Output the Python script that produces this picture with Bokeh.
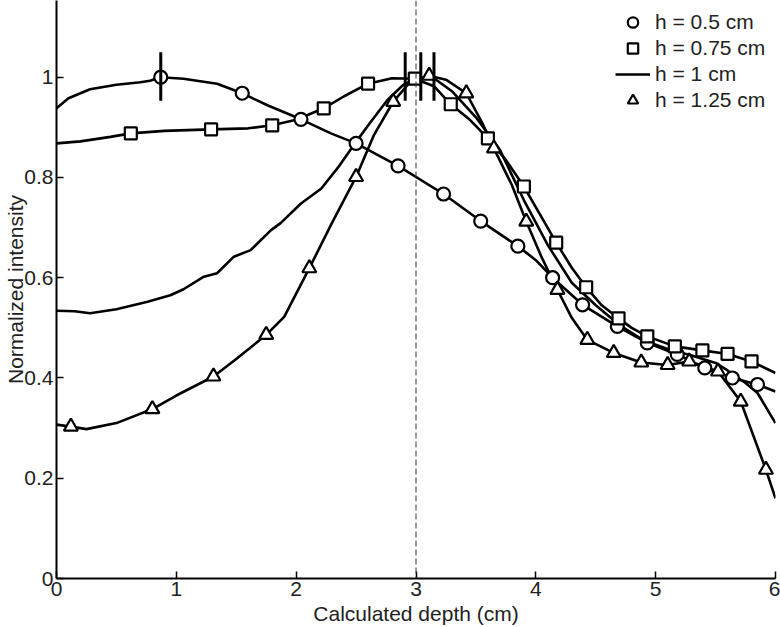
from bokeh.plotting import figure
from bokeh.models import Range1d, FixedTicker, Span, Legend, LegendItem
from bokeh.embed import file_html
from bokeh.resources import INLINE

# ---------------- data ----------------
# h = 0.5 cm (circles)
h05_line_x = [0, 0.1, 0.28, 0.5, 0.7, 0.78, 0.87, 1.06, 1.34, 1.55, 1.76, 2.04, 2.29, 2.5, 2.85,
              3.23, 3.54, 3.85, 4.0, 4.14, 4.39, 4.68, 4.93, 5.18, 5.41, 5.64, 5.85, 6.0]
h05_line_y = [0.938, 0.958, 0.976, 0.985, 0.99, 0.993, 1.0, 0.997, 0.987, 0.968, 0.944, 0.916, 0.888,
              0.868, 0.823, 0.767, 0.713, 0.663, 0.635, 0.60, 0.546, 0.503, 0.47, 0.447, 0.42, 0.40,
              0.387, 0.373]
h05_mark_x = [0.87, 1.55, 2.04, 2.50, 2.85, 3.23, 3.54, 3.85, 4.14, 4.39, 4.68, 4.93, 5.18, 5.41, 5.64, 5.85]
h05_mark_y = [1.0, 0.968, 0.916, 0.868, 0.823, 0.767, 0.713, 0.663, 0.60, 0.546, 0.503, 0.47, 0.447,
              0.42, 0.40, 0.387]

# h = 0.75 cm (squares)
h075_line_x = [0, 0.2, 0.45, 0.62, 0.9, 1.29, 1.6, 1.8, 2.0, 2.23, 2.4, 2.6, 2.8, 2.99, 3.15, 3.29,
               3.45, 3.6, 3.75, 3.9, 4.05, 4.17, 4.3, 4.42, 4.55, 4.69, 4.8, 4.93, 5.16, 5.39, 5.6,
               5.8, 6.0]
h075_line_y = [0.868, 0.872, 0.881, 0.888, 0.893, 0.896, 0.898, 0.904, 0.915, 0.938, 0.962, 0.987,
               0.998, 0.997, 0.982, 0.946, 0.915, 0.878, 0.835, 0.782, 0.72, 0.67, 0.62, 0.581,
               0.545, 0.519, 0.50, 0.483, 0.463, 0.455, 0.448, 0.433, 0.41]
h075_mark_x = [0.62, 1.29, 1.80, 2.23, 2.60, 2.99, 3.29, 3.60, 3.90, 4.17, 4.42, 4.69, 4.93, 5.16,
               5.39, 5.60, 5.80]
h075_mark_y = [0.888, 0.896, 0.904, 0.938, 0.987, 0.997, 0.946, 0.878, 0.782, 0.67, 0.581, 0.519,
               0.483, 0.463, 0.455, 0.448, 0.433]

# h = 1 cm (plain line)
h1_line_x = [0, 0.15, 0.28, 0.5, 0.76, 0.95, 1.06, 1.23, 1.34, 1.48, 1.62, 1.79, 1.87, 2.04, 2.21,
             2.35, 2.5, 2.62, 2.76, 2.89, 3.02, 3.15, 3.3, 3.5, 3.7, 3.9, 4.1, 4.3, 4.5, 4.7, 4.9,
             5.1, 5.3, 5.5, 5.6, 5.75, 5.85, 6.0]
h1_line_y = [0.534, 0.533, 0.529, 0.537, 0.552, 0.565, 0.577, 0.602, 0.609, 0.642, 0.655, 0.695,
             0.709, 0.748, 0.778, 0.82, 0.871, 0.91, 0.954, 0.984, 1.0, 0.998, 0.972, 0.92, 0.855,
             0.755, 0.665, 0.59, 0.545, 0.505, 0.475, 0.458, 0.445, 0.43, 0.415, 0.39, 0.37, 0.31]

# h = 1.25 cm (triangles)
h125_line_x = [0, 0.12, 0.25, 0.5, 0.8, 1.0, 1.31, 1.5, 1.75, 1.9, 2.11, 2.3, 2.5, 2.65, 2.81, 2.95,
               3.11, 3.25, 3.42, 3.55, 3.65, 3.8, 3.92, 4.05, 4.18, 4.3, 4.43, 4.65, 4.88, 5.1, 5.28,
               5.52, 5.71, 5.92, 6.0]
h125_line_y = [0.307, 0.303, 0.298, 0.31, 0.338, 0.365, 0.403, 0.438, 0.486, 0.522, 0.619, 0.71,
               0.801, 0.885, 0.951, 0.99, 1.003, 0.995, 0.968, 0.91, 0.858, 0.785, 0.712, 0.64,
               0.576, 0.52, 0.476, 0.45, 0.431, 0.426, 0.433, 0.413, 0.353, 0.217, 0.16]
h125_mark_x = [0.12, 0.80, 1.31, 1.75, 2.11, 2.50, 2.81, 3.11, 3.42, 3.65, 3.92, 4.18, 4.43, 4.65,
               4.88, 5.10, 5.28, 5.52, 5.71, 5.92]
h125_mark_y = [0.303, 0.338, 0.403, 0.486, 0.619, 0.801, 0.951, 1.003, 0.968, 0.858, 0.712, 0.576,
               0.476, 0.45, 0.431, 0.426, 0.433, 0.413, 0.353, 0.217]

# error bars at the peaks
err_x = [0.87, 2.91, 3.04, 3.15]
err_lo = [0.953, 0.953, 0.953, 0.953]
err_hi = [1.05, 1.05, 1.05, 1.05]

ref_depth = 3.0

x_ticks = [0, 1, 2, 3, 4, 5, 6]
y_ticks = [0, 0.2, 0.4, 0.6, 0.8, 1.0]
y_tick_labels = {0: "0", 0.2: "0.2", 0.4: "0.4", 0.6: "0.6", 0.8: "0.8", 1.0: "1"}

labels = ["h = 0.5 cm", "h = 0.75 cm", "h = 1 cm", "h = 1.25 cm"]

# ---------------- figure ----------------
FONT = "Liberation Sans"
FS = "21px"

p = figure(width=780, height=627, output_backend="svg", toolbar_location=None,
           x_range=Range1d(0, 6), y_range=Range1d(0, 1.153),
           min_border_left=56, min_border_right=5, min_border_top=0, min_border_bottom=49)
p.background_fill_color = "white"
p.border_fill_color = "white"
p.outline_line_color = None
p.xgrid.visible = False
p.ygrid.visible = False

for ax in (p.xaxis[0], p.yaxis[0]):
    ax.axis_line_color = "black"
    ax.axis_line_width = 2
    ax.major_tick_line_color = "black"
    ax.major_tick_line_width = 1.5
    ax.major_tick_in = 7
    ax.major_tick_out = 0
    ax.minor_tick_line_color = None
    ax.major_label_text_font = FONT
    ax.major_label_text_font_size = FS
    ax.major_label_text_color = "#222222"
    ax.axis_label_text_font = FONT
    ax.axis_label_text_font_size = FS
    ax.axis_label_text_font_style = "normal"
    ax.axis_label_text_color = "#222222"

p.xaxis.ticker = FixedTicker(ticks=x_ticks)
p.yaxis.ticker = FixedTicker(ticks=y_ticks)
p.yaxis.major_label_overrides = y_tick_labels
p.xaxis.axis_label = "Calculated depth (cm)"
p.yaxis.axis_label = "Normalized intensity"
p.xaxis.major_label_standoff = 3
p.xaxis.axis_label_standoff = 3
p.yaxis.major_label_standoff = 3
p.yaxis.axis_label_standoff = -6

# reference depth dashed line
p.add_layout(Span(location=ref_depth, dimension="height", line_color="#333333",
                  line_width=1, line_dash="6 3"))

LW = 2.6
MK = dict(line_color="black", line_width=2.2, fill_color="white")

p.line(h05_line_x, h05_line_y, line_color="black", line_width=LW)
p.line(h075_line_x, h075_line_y, line_color="black", line_width=LW)
r_h1 = p.line(h1_line_x, h1_line_y, line_color="black", line_width=LW)
p.line(h125_line_x, h125_line_y, line_color="black", line_width=LW)

r_c = p.scatter(h05_mark_x, h05_mark_y, marker="circle", size=13, **MK)
r_s = p.scatter(h075_mark_x, h075_mark_y, marker="square", size=12, **MK)
r_t = p.scatter(h125_mark_x, h125_mark_y, marker="triangle", size=14, **MK)

p.segment(x0=err_x, y0=err_lo, x1=err_x, y1=err_hi, line_color="black", line_width=3)

legend = Legend(items=[LegendItem(label=labels[0], renderers=[r_c]),
                       LegendItem(label=labels[1], renderers=[r_s]),
                       LegendItem(label=labels[2], renderers=[r_h1]),
                       LegendItem(label=labels[3], renderers=[r_t])],
                location=(559, 465), orientation="vertical",
                background_fill_alpha=0, border_line_alpha=0,
                padding=0, margin=0, spacing=0,
                glyph_width=35, glyph_height=26, label_height=26,
                label_standoff=5,
                label_text_font=FONT, label_text_font_size=FS,
                label_text_color="#222222")
p.add_layout(legend, "center")

open("out.html", "w").write(file_html(p, INLINE))
